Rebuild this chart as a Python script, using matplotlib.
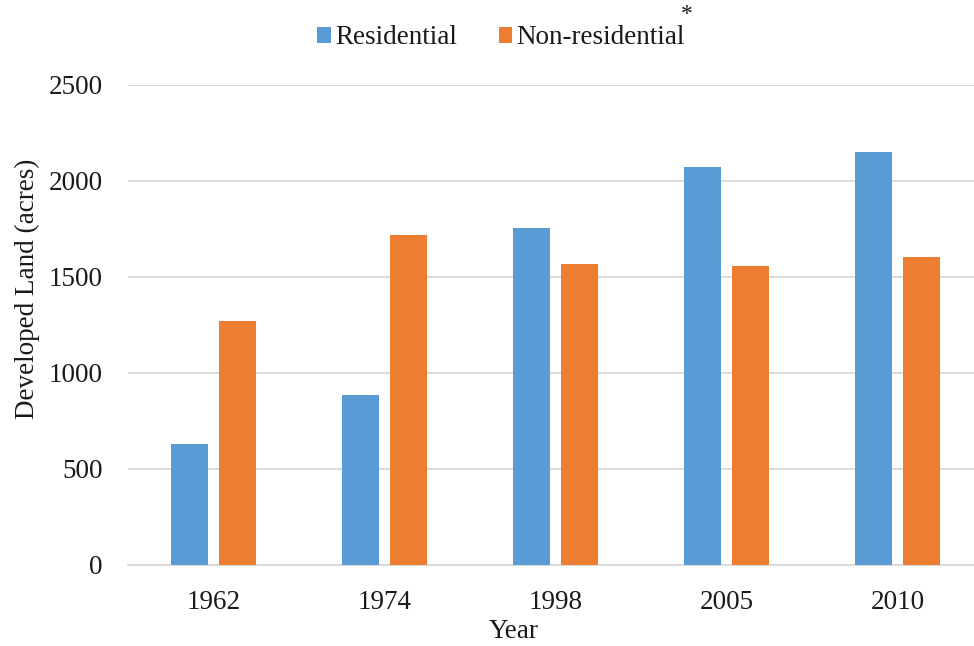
import matplotlib
matplotlib.use("Agg")
import matplotlib.pyplot as plt
import numpy as np

years = ["1962", "1974", "1998", "2005", "2010"]
residential = [630, 884, 1757, 2073, 2153]
non_residential = [1272, 1719, 1566, 1559, 1606]
yticks = [0, 500, 1000, 1500, 2000, 2500]

plt.rcParams["font.family"] = ["Liberation Serif", "DejaVu Serif"]
FS = 19.5
TXT = "#1a1a1a"

fig = plt.figure(figsize=(9.74, 6.46), dpi=100)
ax = fig.add_axes([128 / 974, 1 - 565 / 646, 846 / 974, 480 / 646])

x = np.arange(len(years))
w = 0.216
off = 0.143
ax.bar(x - off, residential, width=w, color="#5B9BD5", label="Residential", zorder=3)
ax.bar(x + off, non_residential, width=w, color="#ED7D31", label="Non-residential", zorder=3)

ax.set_ylim(0, 2500)
ax.set_xlim(-0.5, -0.5 + 846 / 171)
ax.set_yticks(yticks)
ax.set_xticks(x)
ax.set_xticklabels(years)
ax.tick_params(axis="both", length=0, labelsize=FS, colors=TXT)
ax.tick_params(axis="y", pad=18)
ax.tick_params(axis="x", pad=18)
ax.grid(axis="y", color="#d9d9d9", linewidth=1.3, zorder=0)
for s in ["top", "right", "left"]:
    ax.spines[s].set_visible(False)
ax.spines["bottom"].set_color("#d9d9d9")
ax.spines["bottom"].set_linewidth(1.3)

ax.set_xlabel("Year", fontsize=FS, color=TXT)
ax.xaxis.set_label_coords((514 - 128) / 846, (565 - 638) / 480)
ax.xaxis.label.set_va("baseline")
ax.set_ylabel("Developed Land (acres)", fontsize=FS, color=TXT)
ax.yaxis.set_label_coords((27 - 128) / 846, (565 - 289) / 480)
ax.yaxis.label.set_va("center")

fig.legend(loc="center", bbox_to_anchor=(501 / 974, 1 - 38 / 646), ncol=2,
           frameon=False, fontsize=FS, handlelength=0.5, handleheight=0.5,
           handletextpad=0.15, columnspacing=1.55, labelcolor=TXT)
fig.text(687 / 974, 1 - 15 / 646, "*", fontsize=17, ha="center", va="center", color=TXT)

fig.savefig("out.png", dpi=100)
